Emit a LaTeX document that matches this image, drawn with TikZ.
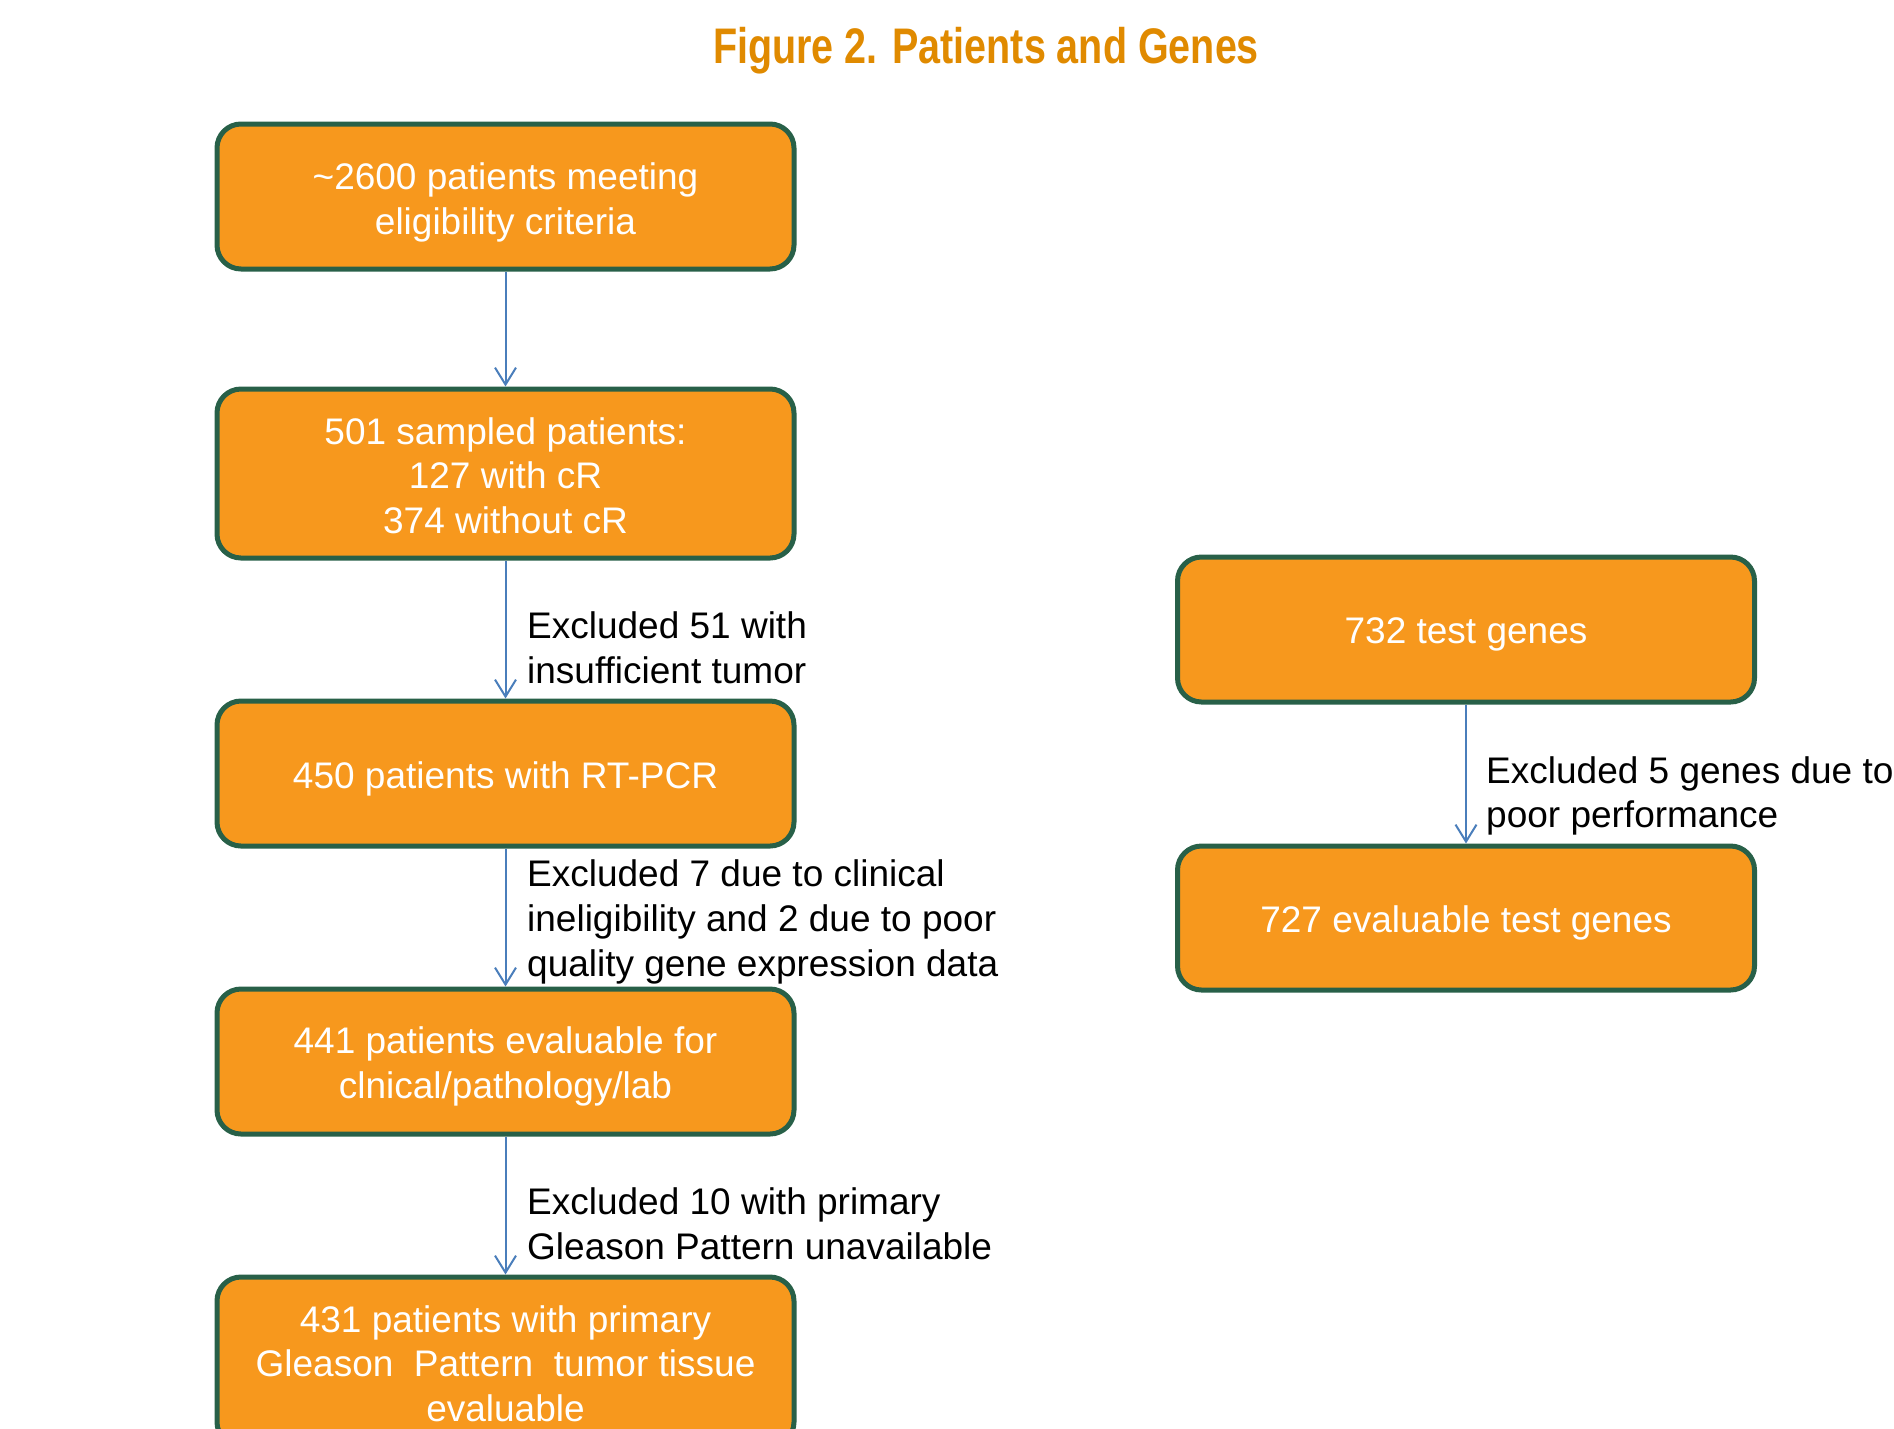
\documentclass[tikz,border=0pt]{standalone}
\usepackage{fontspec}
\setmainfont{Liberation Sans}
\newfontfamily\titlefont[FakeStretch=0.79]{Liberation Sans}
\usetikzlibrary{arrows.meta}
\definecolor{boxfill}{RGB}{247,152,29}
\definecolor{boxline}{RGB}{40,96,72}
\definecolor{arrblue}{RGB}{74,126,187}
\definecolor{titleor}{RGB}{224,138,0}
\tikzset{
  flowbox/.style={draw=boxline, line width=5pt, fill=boxfill, rounded corners=24pt,
    minimum width=577pt, inner sep=0pt},
  boxtext/.style={text=white, align=center, inner sep=0pt,
    font=\fontsize{37}{44.6}\selectfont},
  note/.style={anchor=west, align=left, inner sep=0pt, text=black,
    font=\fontsize{37}{44.6}\selectfont},
  arr/.style={draw=arrblue, line width=2pt, -{Straight Barb[length=17pt,width=21pt,line width=2pt]}}
}
\begin{document}
\begin{tikzpicture}[x=1pt,y=-1pt]
\useasboundingbox (0,0) rectangle (1894,1428);
\node[text=titleor, font=\titlefont\bfseries\fontsize{50}{60}\selectfont] (title) at (986,51) {Figure 2. Patients and Genes};
\node[flowbox, minimum height=145pt] (b1) at (505.5,196.5) {};
\node[flowbox, minimum height=169pt] (b2) at (505.5,473.5) {};
\node[flowbox, minimum height=145pt] (b3) at (505.5,773.5) {};
\node[flowbox, minimum height=145pt] (b4) at (505.5,1061.5) {};
\node[flowbox, minimum height=169pt] (b5) at (505.5,1361.5) {};
\node[flowbox, minimum height=145pt] (r1) at (1466,629.5) {};
\node[flowbox, minimum height=144pt] (r2) at (1466,918) {};
\node[boxtext] (b1t) at ([yshift=-6pt]b1.center) {\textasciitilde2600 patients meeting\\eligibility criteria};
\node[boxtext] (b2t) at ([yshift=-2pt]b2.center) {501 sampled patients:\\127 with cR\\374 without cR};
\node[boxtext] (b3t) at ([yshift=-5pt]b3.center) {450 patients with RT-PCR};
\node[boxtext] (b4t) at ([yshift=-5pt]b4.center) {441 patients evaluable for\\clnical/pathology/lab};
\node[boxtext] (b5t) at ([yshift=-2pt]b5.center) {431 patients with primary\\Gleason\ \ Pattern\ \ tumor tissue\\evaluable};
\node[boxtext] (r1t) at ([yshift=-5pt]r1.center) {732 test genes};
\node[boxtext] (r2t) at ([yshift=-5pt]r2.center) {727 evaluable test genes};
\draw[arr] (b1.south) -- (b2.north);
\draw[arr] (b2.south) -- (b3.north);
\draw[arr] (b3.south) -- (b4.north);
\draw[arr] (b4.south) -- (b5.north);
\draw[arr] (r1.south) -- (r2.north);
\node[note] (n1) at (527,648) {Excluded 51 with\\insufficient tumor};
\node[note] (n2) at (527,922) {Excluded 7 due to clinical\\ineligibility and 2 due to poor\\quality gene expression data};
\node[note] (n3) at (527,1223.5) {Excluded 10 with primary\\Gleason Pattern unavailable};
\node[note] (n4) at (1486,796) {Excluded 5 genes due to\\poor performance};
\end{tikzpicture}
\end{document}
